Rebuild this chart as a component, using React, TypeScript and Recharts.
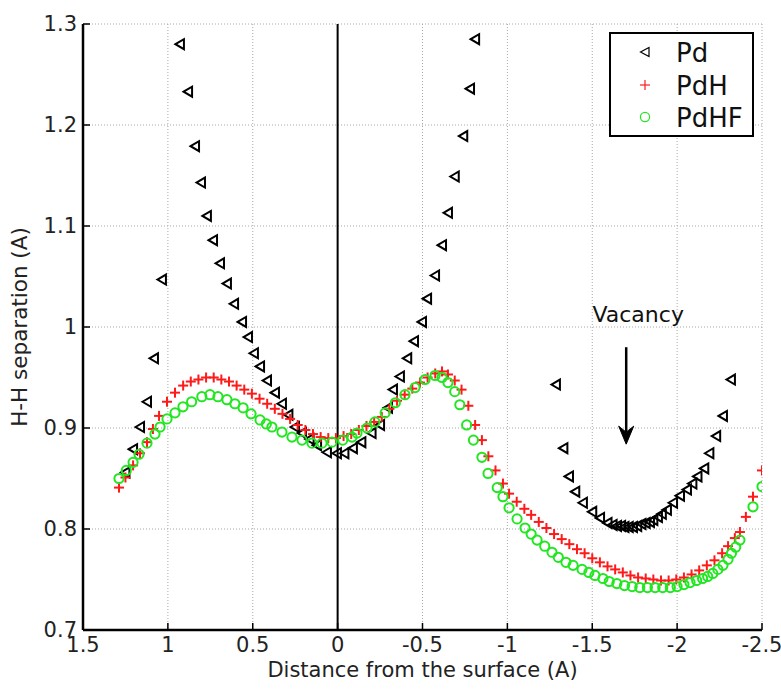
import React from "react";
import {
  ScatterChart,
  Scatter,
  XAxis,
  YAxis,
  CartesianGrid,
  ReferenceLine,
  Legend,
} from "recharts";

// ---------- data (x = distance from surface, y = H-H separation) ----------
const X_TICKS = [1.5, 1, 0.5, 0, -0.5, -1, -1.5, -2, -2.5];
const Y_TICKS = [0.7, 0.8, 0.9, 1, 1.1, 1.2, 1.3];

const pdPoints: [number, number][] = [
  [1.25, 0.856], [1.205, 0.879], [1.164, 0.901], [1.123, 0.926], [1.082, 0.969], [1.035, 1.047],
  [0.929, 1.28], [0.881, 1.233], [0.84, 1.179], [0.805, 1.143], [0.77, 1.11], [0.734, 1.086],
  [0.693, 1.063], [0.652, 1.043], [0.61, 1.023], [0.563, 1.005], [0.528, 0.99], [0.493, 0.974],
  [0.457, 0.961], [0.416, 0.947], [0.369, 0.935], [0.328, 0.924], [0.29, 0.913], [0.251, 0.901],
  [0.21, 0.895], [0.165, 0.889], [0.121, 0.883], [0.063, 0.876], [0.004, 0.875], [-0.04, 0.875],
  [-0.09, 0.88], [-0.14, 0.886], [-0.2, 0.895], [-0.25, 0.903], [-0.297, 0.92], [-0.326, 0.938],
  [-0.367, 0.951], [-0.41, 0.969], [-0.45, 0.986], [-0.497, 1.005], [-0.527, 1.028], [-0.574, 1.051],
  [-0.615, 1.081], [-0.65, 1.113], [-0.69, 1.149], [-0.74, 1.189], [-0.78, 1.236], [-0.81, 1.285],
  [-1.286, 0.943], [-1.33, 0.88], [-1.363, 0.852], [-1.4, 0.837], [-1.445, 0.826], [-1.5, 0.817],
  [-1.546, 0.811], [-1.59, 0.806], [-1.62, 0.804], [-1.646, 0.803], [-1.67, 0.803], [-1.69, 0.802],
  [-1.715, 0.802], [-1.74, 0.802], [-1.765, 0.803], [-1.79, 0.805], [-1.815, 0.806], [-1.84, 0.807],
  [-1.86, 0.809], [-1.887, 0.812], [-1.91, 0.815], [-1.94, 0.819], [-1.976, 0.826], [-2.017, 0.833],
  [-2.058, 0.839], [-2.09, 0.845], [-2.12, 0.852], [-2.16, 0.86], [-2.19, 0.875], [-2.23, 0.892],
  [-2.27, 0.912], [-2.317, 0.948],
];

const pdhPoints: [number, number][] = [
  [1.288, 0.841], [1.25, 0.851], [1.205, 0.863], [1.164, 0.875], [1.123, 0.886], [1.088, 0.899],
  [1.052, 0.912], [1.005, 0.926], [0.958, 0.935], [0.91, 0.942], [0.865, 0.946], [0.82, 0.948],
  [0.775, 0.95], [0.73, 0.95], [0.685, 0.948], [0.64, 0.946], [0.595, 0.942], [0.55, 0.938],
  [0.505, 0.934], [0.46, 0.929], [0.415, 0.924], [0.37, 0.919], [0.325, 0.914], [0.28, 0.909],
  [0.235, 0.903], [0.19, 0.898], [0.145, 0.894], [0.1, 0.891], [0.055, 0.89], [0.01, 0.89],
  [-0.035, 0.892], [-0.08, 0.894], [-0.125, 0.898], [-0.17, 0.902], [-0.215, 0.906], [-0.26, 0.911],
  [-0.305, 0.919], [-0.35, 0.927], [-0.395, 0.933], [-0.44, 0.939], [-0.485, 0.945], [-0.53, 0.95],
  [-0.575, 0.954], [-0.615, 0.956], [-0.65, 0.953], [-0.69, 0.947], [-0.73, 0.938], [-0.77, 0.922],
  [-0.81, 0.903], [-0.85, 0.888], [-0.888, 0.872], [-0.93, 0.858], [-0.974, 0.845], [-1.01, 0.835],
  [-1.055, 0.827], [-1.1, 0.82], [-1.14, 0.814], [-1.185, 0.807], [-1.23, 0.801], [-1.275, 0.795],
  [-1.32, 0.79], [-1.365, 0.785], [-1.41, 0.78], [-1.455, 0.776], [-1.5, 0.771], [-1.545, 0.767],
  [-1.59, 0.763], [-1.635, 0.76], [-1.68, 0.757], [-1.725, 0.754], [-1.77, 0.752], [-1.815, 0.751],
  [-1.86, 0.75], [-1.905, 0.749], [-1.95, 0.749], [-1.995, 0.75], [-2.04, 0.752], [-2.085, 0.755],
  [-2.13, 0.759], [-2.175, 0.764], [-2.22, 0.769], [-2.265, 0.776], [-2.3, 0.783], [-2.34, 0.791],
  [-2.37, 0.797], [-2.405, 0.812], [-2.447, 0.832], [-2.5, 0.858],
];

const pdhfPoints: [number, number][] = [
  [1.288, 0.85], [1.245, 0.858], [1.205, 0.866], [1.17, 0.874], [1.123, 0.885], [1.076, 0.894],
  [1.046, 0.901], [1.005, 0.909], [0.958, 0.915], [0.911, 0.921], [0.86, 0.926], [0.8, 0.931],
  [0.752, 0.933], [0.705, 0.931], [0.652, 0.928], [0.605, 0.924], [0.557, 0.92], [0.51, 0.914],
  [0.457, 0.908], [0.42, 0.904], [0.387, 0.901], [0.328, 0.896], [0.269, 0.891], [0.21, 0.888],
  [0.151, 0.885], [0.092, 0.885], [0.033, 0.886], [-0.03, 0.888], [-0.085, 0.891], [-0.114, 0.895],
  [-0.173, 0.9], [-0.22, 0.906], [-0.28, 0.915], [-0.34, 0.925], [-0.397, 0.933], [-0.456, 0.94],
  [-0.515, 0.948], [-0.574, 0.952], [-0.615, 0.95], [-0.65, 0.945], [-0.69, 0.936], [-0.72, 0.923],
  [-0.76, 0.903], [-0.8, 0.888], [-0.85, 0.871], [-0.886, 0.855], [-0.94, 0.841], [-0.974, 0.832],
  [-1.01, 0.821], [-1.057, 0.81], [-1.104, 0.801], [-1.14, 0.795], [-1.175, 0.789], [-1.22, 0.783],
  [-1.263, 0.777], [-1.3, 0.772], [-1.345, 0.767], [-1.387, 0.764], [-1.44, 0.76], [-1.48, 0.757],
  [-1.516, 0.754], [-1.563, 0.751], [-1.6, 0.748], [-1.645, 0.746], [-1.69, 0.744], [-1.735, 0.743],
  [-1.78, 0.742], [-1.825, 0.742], [-1.87, 0.742], [-1.915, 0.742], [-1.96, 0.742], [-2.0, 0.743],
  [-2.04, 0.745], [-2.076, 0.747], [-2.115, 0.749], [-2.15, 0.751], [-2.18, 0.753], [-2.21, 0.756],
  [-2.24, 0.76], [-2.27, 0.764], [-2.3, 0.77], [-2.32, 0.776], [-2.345, 0.782], [-2.37, 0.789],
  [-2.447, 0.822], [-2.5, 0.842],
];

const SERIES_NAMES = ["Pd", "PdH", "PdHF"];
const VACANCY_LABEL = "Vacancy";
const VACANCY_X = -1.7;
const VACANCY_Y_TOP = 0.98;
const VACANCY_Y_TIP = 0.884;

// ---------- styling ----------
const FONT = "'DejaVu Sans', sans-serif";
const BLACK = "#000000";
const RED = "#ff1a1a";
const GREEN = "#22e622";

const toRows = (pts: [number, number][]) => pts.map(([x, y]) => ({ x, y }));

const TriangleMark = (props: any) => {
  const { cx, cy } = props;
  if (cx == null || cy == null) return <g />;
  return (
    <polygon
      points={`${cx - 4.5},${cy} ${cx + 4},${cy - 5} ${cx + 4},${cy + 5}`}
      fill="none"
      stroke={BLACK}
      strokeWidth={2}
      strokeLinejoin="miter"
    />
  );
};

const PlusMark = (props: any) => {
  const { cx, cy } = props;
  if (cx == null || cy == null) return <g />;
  return (
    <g stroke={RED} strokeWidth={2}>
      <line x1={cx - 5} y1={cy} x2={cx + 5} y2={cy} />
      <line x1={cx} y1={cy - 5} x2={cx} y2={cy + 5} />
    </g>
  );
};

const CircleMark = (props: any) => {
  const { cx, cy } = props;
  if (cx == null || cy == null) return <g />;
  return <circle cx={cx} cy={cy} r={4.6} fill="none" stroke={GREEN} strokeWidth={2} />;
};

const EmptyTick = () => <g />;

const VacancyArrow = (props: any) => {
  const { x1, y1, x2, y2 } = props;
  if (x1 == null) return <g />;
  return (
    <g>
      <line x1={x1} y1={y1} x2={x2} y2={y2 - 12} stroke={BLACK} strokeWidth={2.5} />
      <path
        d={`M ${x2} ${y2} L ${x2 - 7.5} ${y2 - 18} L ${x2} ${y2 - 12} L ${x2 + 7.5} ${y2 - 18} Z`}
        fill={BLACK}
        stroke={BLACK}
        strokeWidth={1}
      />
      <text
        x={x1 + 12}
        y={y1 - 25}
        textAnchor="middle"
        fontFamily={FONT}
        fontSize={22}
        fill="#111"
      >
        {VACANCY_LABEL}
      </text>
    </g>
  );
};

const LegendBox = () => {
  const rows = [20, 53, 85];
  return (
    <svg width={145} height={105} style={{ display: "block", overflow: "visible" }}>
      <rect x={1} y={1} width={143} height={103} fill="#fff" stroke={BLACK} strokeWidth={2} />
      <polygon
        points={`${31.5},${rows[0]} ${40},${rows[0] - 4.5} ${40},${rows[0] + 4.5}`}
        fill="none"
        stroke={BLACK}
        strokeWidth={1.2}
      />
      <g stroke={RED} strokeWidth={1.2}>
        <line x1={31} y1={rows[1]} x2={41} y2={rows[1]} />
        <line x1={36} y1={rows[1] - 5} x2={36} y2={rows[1] + 5} />
      </g>
      <circle cx={36} cy={rows[2]} r={4.6} fill="none" stroke={GREEN} strokeWidth={1.2} />
      {SERIES_NAMES.map((n, i) => (
        <text
          key={n}
          x={67}
          y={rows[i] + 9.5}
          fontFamily={FONT}
          fontSize={26}
          fill="#111"
        >
          {n}
        </text>
      ))}
    </svg>
  );
};

const tickStyle = { fontFamily: FONT, fontSize: 21, fill: "#222" };

export default function App() {
  return (
    <div style={{ position: "absolute", left: 0, top: 0, width: 781, height: 689, background: "#fff" }}>
      <ScatterChart
        width={781}
        height={689}
        margin={{ top: 24, right: 19, bottom: 0, left: 0 }}
        style={{ fontFamily: FONT }}
      >
        <CartesianGrid stroke="#a8a8a8" strokeDasharray="1 2" strokeWidth={1} />
        <XAxis
          type="number"
          dataKey="x"
          domain={[-2.5, 1.5]}
          reversed
          allowDataOverflow
          ticks={X_TICKS}
          tickFormatter={(v: number) => String(v)}
          height={59}
          tickSize={-7}
          tickMargin={14}
          axisLine={{ stroke: BLACK, strokeWidth: 2.5 }}
          tickLine={{ stroke: BLACK, strokeWidth: 1.5 }}
          tick={tickStyle}
          interval={0}
          label={{
            value: "Distance from the surface (A)",
            position: "insideBottom",
            offset: 0,
            content: (p: any) => {
              const vb = p.viewBox || {};
              const cx = (vb.x ?? 83) + (vb.width ?? 679) / 2;
              return (
                <text
                  x={cx}
                  y={677}
                  textAnchor="middle"
                  fontFamily={FONT}
                  fontSize={21}
                  fill="#222"
                >
                  Distance from the surface (A)
                </text>
              );
            },
          }}
        />
        <XAxis
          xAxisId="top"
          orientation="top"
          type="number"
          dataKey="x"
          domain={[-2.5, 1.5]}
          reversed
          allowDataOverflow
          ticks={X_TICKS}
          height={0}
          tickSize={-7}
          axisLine={{ stroke: BLACK, strokeWidth: 2.5 }}
          tickLine={{ stroke: BLACK, strokeWidth: 1.5 }}
          tick={EmptyTick}
          interval={0}
        />
        <YAxis
          type="number"
          dataKey="y"
          domain={[0.7, 1.3]}
          allowDataOverflow
          ticks={Y_TICKS}
          tickFormatter={(v: number) => String(v)}
          width={83}
          tickSize={-7}
          tickMargin={13}
          axisLine={{ stroke: BLACK, strokeWidth: 2.5 }}
          tickLine={{ stroke: BLACK, strokeWidth: 1.5 }}
          tick={tickStyle}
          interval={0}
          label={{
            value: "H-H separation (A)",
            angle: -90,
            position: "insideLeft",
            offset: 0,
            content: (p: any) => {
              const vb = p.viewBox || {};
              const cx = 19;
              const cy = (vb.y ?? 24) + (vb.height ?? 606) / 2;
              return (
                <text
                  x={cx}
                  y={cy}
                  transform={`rotate(-90 ${cx} ${cy})`}
                  textAnchor="middle"
                  dominantBaseline="central"
                  fontFamily={FONT}
                  fontSize={21.5}
                  fill="#222"
                >
                  H-H separation (A)
                </text>
              );
            },
          }}
        />
        <YAxis
          yAxisId="right"
          orientation="right"
          type="number"
          dataKey="y"
          domain={[0.7, 1.3]}
          allowDataOverflow
          ticks={Y_TICKS}
          width={0}
          tickSize={-7}
          axisLine={{ stroke: BLACK, strokeWidth: 2.5 }}
          tickLine={{ stroke: BLACK, strokeWidth: 1.5 }}
          tick={EmptyTick}
          interval={0}
        />
        <ReferenceLine x={0} stroke={BLACK} strokeWidth={2} />
        <ReferenceLine
          segment={[
            { x: VACANCY_X, y: VACANCY_Y_TOP },
            { x: VACANCY_X, y: VACANCY_Y_TIP },
          ]}
          stroke={BLACK}
          shape={VacancyArrow}
        />
        <Scatter
          name={SERIES_NAMES[0]}
          data={toRows(pdPoints)}
          shape={TriangleMark}
          isAnimationActive={false}
        />
        <Scatter
          name={SERIES_NAMES[1]}
          data={toRows(pdhPoints)}
          shape={PlusMark}
          isAnimationActive={false}
        />
        <Scatter
          name={SERIES_NAMES[2]}
          data={toRows(pdhfPoints)}
          shape={CircleMark}
          isAnimationActive={false}
        />
        <Legend
          layout="horizontal"
          verticalAlign="middle"
          align="center"
          wrapperStyle={{ left: 609, top: 32, width: 145, height: 105 }}
          content={LegendBox}
        />
      </ScatterChart>
    </div>
  );
}
